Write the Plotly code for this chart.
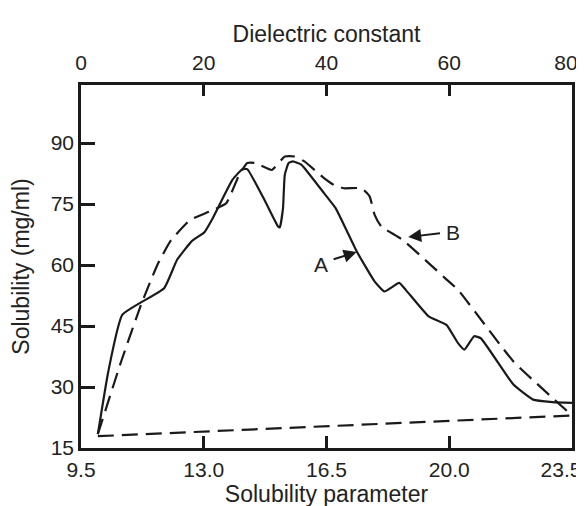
import plotly.graph_objects as go

# ---- data ----
a_x = [9.98, 10.28, 10.68, 11.87, 12.24, 12.66, 13.02, 13.26, 13.82, 14.10, 14.24, 14.75,
       15.12, 15.17, 15.26, 15.31, 15.42, 15.54, 15.78, 15.87, 16.43, 16.76, 17.36, 17.87,
       18.15, 18.57, 18.76, 19.41, 19.92, 20.25, 20.43, 20.71, 20.90, 21.83, 22.39, 22.95, 23.50]
a_y = [18.4, 33.9, 47.8, 54.3, 61.3, 65.9, 68.1, 71.6, 81.0, 83.6, 83.6, 75.7,
       69.5, 69.3, 74.0, 82.2, 85.1, 85.5, 84.7, 83.9, 77.7, 74.0, 63.4, 56.0,
       53.5, 55.6, 53.9, 47.4, 45.3, 40.8, 39.2, 42.5, 42.0, 30.6, 26.9, 26.3, 26.1]

b_x = [9.98, 10.65, 11.21, 11.68, 12.05, 12.61, 13.17, 13.64, 14.01, 14.24, 14.47, 14.94,
       15.31, 15.59, 15.87, 16.43, 16.71, 16.99, 17.50, 17.73, 17.87, 18.06, 18.67, 19.88,
       20.25, 21.83, 23.50]
b_y = [18.4, 36.4, 50.2, 60.1, 65.9, 71.1, 73.2, 75.2, 82.2, 85.1, 85.1, 83.4,
       86.7, 86.7, 85.5, 81.4, 79.7, 78.9, 78.9, 76.9, 72.4, 69.5, 66.2, 56.8,
       53.9, 36.3, 23.0]

base_x = [9.98, 23.50]
base_y = [17.9, 23.0]

x_ticks = [9.5, 13.0, 16.5, 20.0]
x_ticktext = ["9.5", "13.0", "16.5", "20.0"]
x_edge_tick = [23.5]
x_edge_text = ["23.5"]
top_ticks = [0, 20, 40, 60]
top_edge_tick = [80]
y_ticks = [15, 30, 45, 60, 75, 90]

X_RANGE = [9.5, 23.5]
TOP_RANGE = [0, 80]
Y_RANGE = [15, 104.3]

FONT = "Liberation Sans, Arial, Helvetica, sans-serif"
INK = "#1a1a1a"
TXT = "#222222"
CLEAR = "rgba(0,0,0,0)"
TICK_FS = 21
TITLE_FS = 23

fig = go.Figure()
fig.add_trace(go.Scatter(x=a_x, y=a_y, mode="lines",
                         line=dict(color=INK, width=2.2, shape="spline", smoothing=0.4),
                         showlegend=False, hoverinfo="skip"))
fig.add_trace(go.Scatter(x=b_x, y=b_y, mode="lines",
                         line=dict(color=INK, width=2.2, dash="16px,8px",
                                   shape="spline", smoothing=0.4),
                         showlegend=False, hoverinfo="skip"))
fig.add_trace(go.Scatter(x=base_x, y=base_y, mode="lines",
                         line=dict(color=INK, width=2.2, dash="16px,8px"),
                         showlegend=False, hoverinfo="skip"))
# invisible traces that attach the extra axes
for xa in ["x2", "x3", "x4"]:
    fig.add_trace(go.Scatter(x=[None], y=[None], xaxis=xa, mode="lines",
                             showlegend=False, hoverinfo="skip"))

common = dict(showgrid=False, zeroline=False)
BOTTOM_STANDOFF = 1
TOP_STANDOFF = 4
fig.update_layout(
    width=584, height=506,
    margin=dict(l=72, r=11, t=77, b=66),
    paper_bgcolor="white", plot_bgcolor="white",
    font=dict(family=FONT, size=TICK_FS, color=TXT),
    xaxis=dict(range=X_RANGE, tickvals=x_ticks, ticktext=x_ticktext,
               ticks="inside", ticklen=12, tickwidth=2.5, tickcolor=INK,
               showline=True, linewidth=2.5, linecolor=INK,
               ticklabelstandoff=BOTTOM_STANDOFF,
               title=dict(text="Solubility parameter", standoff=0,
                          font=dict(size=TITLE_FS)),
               tickfont=dict(size=TICK_FS), **common),
    xaxis3=dict(range=X_RANGE, overlaying="x", side="bottom", anchor="y",
                tickvals=x_edge_tick, ticktext=x_edge_text,
                ticks="inside", ticklen=12, tickwidth=2.5, tickcolor=CLEAR,
                showline=True, linewidth=2.5, linecolor=CLEAR,
                ticklabelshift=-11, ticklabelstandoff=BOTTOM_STANDOFF,
                tickfont=dict(size=TICK_FS), **common),
    xaxis2=dict(range=TOP_RANGE, overlaying="x", side="top", anchor="y",
                tickvals=top_ticks,
                ticks="inside", ticklen=11, tickwidth=2.5, tickcolor=INK,
                showline=True, linewidth=2.5, linecolor=INK,
                ticklabelstandoff=TOP_STANDOFF,
                title=dict(text="Dielectric constant", standoff=2,
                           font=dict(size=TITLE_FS)),
                tickfont=dict(size=TICK_FS), **common),
    xaxis4=dict(range=TOP_RANGE, overlaying="x", side="top", anchor="y",
                tickvals=top_edge_tick,
                ticks="inside", ticklen=11, tickwidth=2.5, tickcolor=CLEAR,
                showline=True, linewidth=2.5, linecolor=CLEAR,
                ticklabelshift=-6, ticklabelstandoff=TOP_STANDOFF,
                tickfont=dict(size=TICK_FS), **common),
    yaxis=dict(range=Y_RANGE, tickvals=y_ticks, ticks="inside", ticklen=14,
               tickwidth=2.5, tickcolor=INK, showline=True, linewidth=2.5,
               linecolor=INK, mirror=True,
               title=dict(text="Solubility (mg/ml)", standoff=16,
                          font=dict(size=TITLE_FS)),
               tickfont=dict(size=TICK_FS), **common),
)

fig.add_annotation(x=17.36, y=63.2, ax=16.66, ay=61.3, xref="x", yref="y",
                   axref="x", ayref="y", text="", showarrow=True,
                   arrowhead=2, arrowsize=1.3, arrowwidth=2, arrowcolor=INK)
fig.add_annotation(x=16.34, y=60.2, text="A", showarrow=False,
                   font=dict(size=TICK_FS, color=TXT))
fig.add_annotation(x=18.83, y=66.9, ax=19.78, ay=67.9, xref="x", yref="y",
                   axref="x", ayref="y", text="", showarrow=True,
                   arrowhead=2, arrowsize=1.3, arrowwidth=2, arrowcolor=INK)
fig.add_annotation(x=20.11, y=68.1, text="B", showarrow=False,
                   font=dict(size=TICK_FS, color=TXT))

fig.write_html("out.html")
